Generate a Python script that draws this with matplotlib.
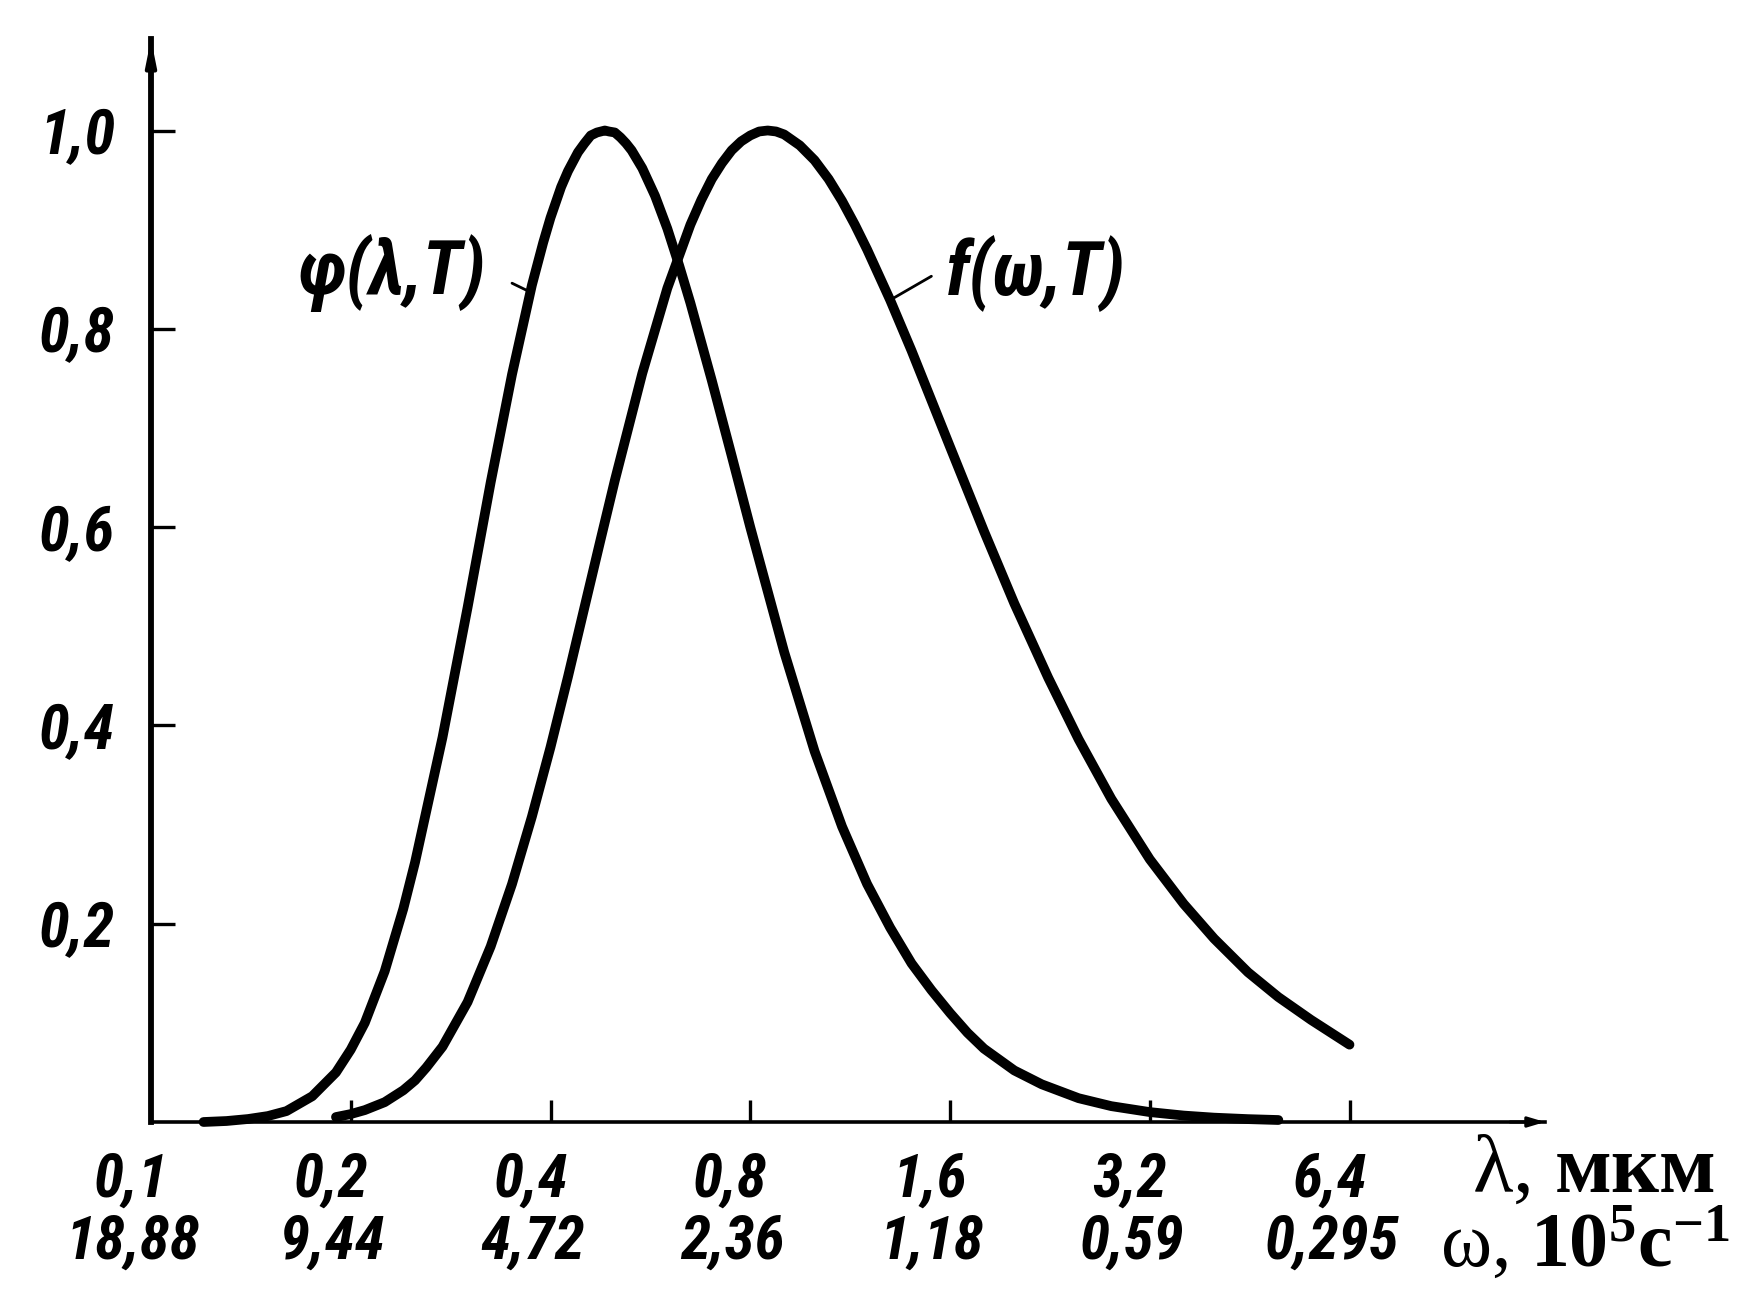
import numpy as np
import matplotlib
matplotlib.use('Agg')
import matplotlib.pyplot as plt
from matplotlib.transforms import ScaledTranslation

# ---------------- data ----------------
lam_phi = [0.12, 0.13, 0.14, 0.15, 0.16, 0.175, 0.19, 0.20, 0.21, 0.225, 0.24, 0.25,
           0.275, 0.30, 0.325, 0.35, 0.375, 0.39, 0.40, 0.415, 0.425, 0.44, 0.45, 0.46,
           0.47, 0.483, 0.49, 0.50, 0.51, 0.52, 0.53, 0.55, 0.575, 0.60, 0.625, 0.65,
           0.70, 0.75, 0.80, 0.90, 1.0, 1.1, 1.2, 1.3, 1.4, 1.5, 1.6, 1.7, 1.8, 2.0, 2.2,
           2.5, 2.8, 3.2, 3.6, 4.0, 4.5, 5.0]
phi_vals = [0.000, 0.001, 0.003, 0.006, 0.011, 0.026, 0.050, 0.073, 0.100, 0.152, 0.215, 0.262,
            0.388, 0.519, 0.645, 0.754, 0.844, 0.887, 0.912, 0.943, 0.959, 0.978, 0.987, 0.995,
            0.998, 1.000, 0.999, 0.998, 0.993, 0.987, 0.980, 0.962, 0.934, 0.901, 0.864, 0.826,
            0.748, 0.672, 0.600, 0.474, 0.374, 0.298, 0.240, 0.196, 0.160, 0.133, 0.110, 0.090,
            0.074, 0.052, 0.038, 0.024, 0.016, 0.010, 0.0065, 0.0044, 0.0029, 0.002]

lam_f = [0.19, 0.20, 0.21, 0.225, 0.24, 0.25, 0.26, 0.275, 0.30, 0.325, 0.35, 0.375, 0.40,
         0.425, 0.45, 0.475, 0.50, 0.55, 0.60, 0.65, 0.675, 0.70, 0.725, 0.75, 0.775, 0.80,
         0.825, 0.85, 0.875, 0.90, 0.95, 1.0, 1.05, 1.1, 1.15, 1.2, 1.3, 1.4, 1.6, 1.8, 2.0,
         2.25, 2.5, 2.8, 3.2, 3.6, 4.0, 4.5, 5.0, 5.6, 6.4]
f_vals = [0.005, 0.008, 0.012, 0.020, 0.032, 0.042, 0.055, 0.076, 0.121, 0.177, 0.240, 0.308,
          0.378, 0.449, 0.519, 0.585, 0.647, 0.755, 0.841, 0.905, 0.930, 0.951, 0.967, 0.980,
          0.989, 0.995, 0.999, 1.000, 0.999, 0.996, 0.985, 0.970, 0.951, 0.929, 0.905, 0.880,
          0.829, 0.778, 0.681, 0.596, 0.523, 0.448, 0.386, 0.326, 0.265, 0.220, 0.185, 0.151,
          0.126, 0.103, 0.078]

lam_ticks = [0.1, 0.2, 0.4, 0.8, 1.6, 3.2, 6.4]
lam_labels = ["0,1", "0,2", "0,4", "0,8", "1,6", "3,2", "6,4"]
omega_labels = ["18,88", "9,44", "4,72", "2,36", "1,18", "0,59", "0,295"]
y_ticks = [0.2, 0.4, 0.6, 0.8, 1.0]
y_labels = ["0,2", "0,4", "0,6", "0,8", "1,0"]

# ---------------- styling ----------------
plt.rcParams['mathtext.fontset'] = 'custom'
plt.rcParams['mathtext.rm'] = 'Liberation Serif'
plt.rcParams['mathtext.bf'] = 'Liberation Serif:bold'
plt.rcParams['mathtext.it'] = 'Liberation Serif:italic'

HAND = ['Roboto Condensed', 'Liberation Sans Narrow', 'Liberation Sans', 'DejaVu Sans']

W, H = 1737, 1312
DPI = 100
fig = plt.figure(figsize=(W / DPI, H / DPI), dpi=DPI)
fig.patch.set_facecolor('white')

x0, x1 = 151, 1545     # pixel position of lambda=0.1 and right end of x axis
y0, y1 = 1122, 39      # pixel position of y=0 and top of y axis
dec_px = 199.75        # pixels per doubling of lambda
unit_px = 991.5        # pixels per unit of y

ax = fig.add_axes([x0 / W, (H - y0) / H, (x1 - x0) / W, (y0 - y1) / H])
ax.set_xscale('log', base=2)
ax.set_xlim(0.1, 0.1 * 2 ** ((x1 - x0) / dec_px))
ax.set_ylim(0, (y0 - y1) / unit_px)
ax.set_facecolor('white')

ax.plot(lam_phi, phi_vals, color='black', lw=7.0, solid_capstyle='round',
        solid_joinstyle='round', clip_on=False)
ax.plot(lam_f, f_vals, color='black', lw=7.0, solid_capstyle='round',
        solid_joinstyle='round', clip_on=False)

for s in ['top', 'right']:
    ax.spines[s].set_visible(False)
ax.spines['left'].set_linewidth(4.2)
ax.spines['bottom'].set_linewidth(2.6)

ax.xaxis.set_minor_locator(matplotlib.ticker.NullLocator())
ax.yaxis.set_minor_locator(matplotlib.ticker.NullLocator())
ax.set_xticks(lam_ticks[1:])
ax.set_xticklabels([''] * (len(lam_ticks) - 1))
ax.tick_params(axis='x', direction='in', length=16, width=2.4, color='black')
ax.set_yticks(y_ticks)
ax.set_yticklabels(y_labels, fontsize=45, fontstyle='italic', fontweight='bold', family=HAND)
ax.tick_params(axis='y', direction='in', length=17, width=2.4, pad=26, color='black')

# arrows at axis ends
ax.annotate('', xy=(0, 1.0), xytext=(0, 0.955), xycoords='axes fraction',
            arrowprops=dict(arrowstyle='-|>,head_length=1.5,head_width=0.3',
                            color='black', lw=3.0, shrinkA=0, shrinkB=0),
            annotation_clip=False)
ax.annotate('', xy=(1.0, 0), xytext=(0.975, 0), xycoords='axes fraction',
            arrowprops=dict(arrowstyle='-|>,head_length=1.0,head_width=0.3',
                            color='black', lw=2.2, shrinkA=0, shrinkB=0),
            annotation_clip=False)

# two-row x tick labels
tr = ax.get_xaxis_transform()
for lam, l1, l2 in zip(lam_ticks, lam_labels, omega_labels):
    off1 = ScaledTranslation(-20 / DPI, -58 / DPI, fig.dpi_scale_trans)
    off2 = ScaledTranslation(-18 / DPI, -120 / DPI, fig.dpi_scale_trans)
    ax.text(lam, 0, l1, transform=tr + off1, ha='center', va='center',
            fontsize=44, fontstyle='italic', fontweight='bold', family=HAND, clip_on=False)
    ax.text(lam, 0, l2, transform=tr + off2, ha='center', va='center',
            fontsize=44, fontstyle='italic', fontweight='bold', family=HAND, clip_on=False)

# curve labels with leaders
ax.text(0.2306, 0.856, "φ(λ,T)", ha='center', va='center', fontsize=54,
        fontstyle='italic', fontweight='bold', family=HAND)
ax.text(2.152, 0.856, "f(ω,T)", ha='center', va='center', fontsize=54,
        fontstyle='italic', fontweight='bold', family=HAND)
lp = 0.373
ax.annotate('', xy=(lp, np.interp(np.log(lp), np.log(lam_phi), phi_vals)),
            xytext=(0.35, 0.846),
            arrowprops=dict(arrowstyle='-', color='black', lw=2.0, shrinkA=0, shrinkB=0))
lf = 1.3
ax.annotate('', xy=(lf, np.interp(np.log(lf), np.log(lam_f), f_vals)),
            xytext=(1.50, 0.853),
            arrowprops=dict(arrowstyle='-', color='black', lw=2.0, shrinkA=0, shrinkB=0))

# axis titles at the right
fig.text(1472 / W, 1 - 1172 / H, "λ, $\\mathbf{мкм}$", family='Liberation Serif',
         fontsize=60, ha='left', va='center')
fig.text(1440 / W, 1 - 1244 / H, "ω, $\\mathbf{10^{5}с^{-1}}$", family='Liberation Serif',
         fontsize=56, ha='left', va='center')

fig.savefig('out.png', dpi=DPI, facecolor='white')
